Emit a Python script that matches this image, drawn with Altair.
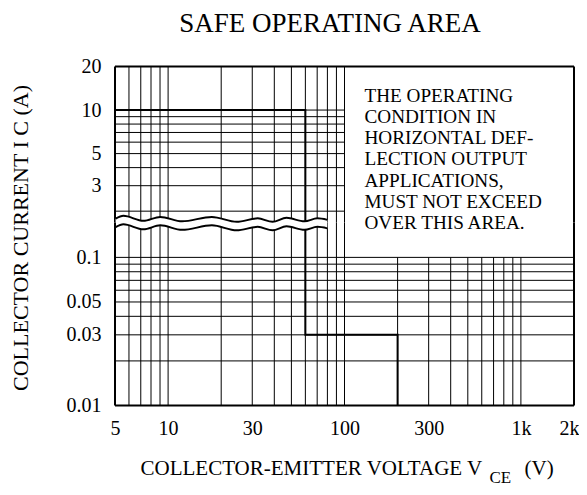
import altair as alt
import pandas as pd

FONT = "Liberation Serif"

title_text = "SAFE OPERATING AREA"
x_title_main = "COLLECTOR-EMITTER VOLTAGE V"
x_title_sub = "CE"
x_title_unit = "(V)"
y_title_text = "COLLECTOR CURRENT I C (A)"
note_lines = [
    "THE OPERATING",
    "CONDITION IN",
    "HORIZONTAL DEF-",
    "LECTION OUTPUT",
    "APPLICATIONS,",
    "MUST NOT EXCEED",
    "OVER THIS AREA.",
]

x_tick_values = [5, 10, 30, 100, 300, 1000, 2000]
y_upper_ticks = [3, 5, 10, 20]
y_lower_ticks = [0.01, 0.03, 0.05, 0.1]

v_grid_full = [6, 7, 8, 9, 10, 20, 30, 40, 50, 60, 70, 80, 90, 100]
v_grid_lower = [200, 300, 400, 500, 600, 700, 800, 900, 1000]
h_grid_upper = [2, 3, 4, 5, 6, 7, 8, 9, 10]
h_grid_lower = [0.02, 0.03, 0.04, 0.05, 0.06, 0.07, 0.08, 0.09, 0.1]

soa_v = [5, 60, 60, 200, 200]
soa_i = [10, 10, 0.03, 0.03, 0.01]

wave_v = [5.04, 5.58, 7.24, 9.03, 12.0, 17.7, 24.5, 32.2, 39.1, 46.9, 59.3, 70.2, 79.9]
wave_up = [0.1826, 0.1907, 0.1765, 0.1877, 0.1751, 0.1877, 0.1738, 0.1834, 0.1738, 0.1849, 0.1751, 0.1834, 0.1792]
wave_lo = [0.1600, 0.1671, 0.1546, 0.1645, 0.1534, 0.1645, 0.1522, 0.1607, 0.1522, 0.1620, 0.1534, 0.1607, 0.1570]

X_DOMAIN = [5, 2000]
Y_UP_DOMAIN = [1.67, 20]
Y_LO_DOMAIN = [0.01, 0.172]
W = 459
H_UP = 156
H_LO = 183

xs = alt.Scale(type="log", domain=X_DOMAIN, nice=False)
ys_up = alt.Scale(type="log", domain=Y_UP_DOMAIN, nice=False)
ys_lo = alt.Scale(type="log", domain=Y_LO_DOMAIN, nice=False)

y_axis_common = dict(
    format="~g", domain=False, ticks=False, grid=False, labelFont=FONT,
    labelFontSize=20, labelPadding=14, labelColor="black", title=None,
    labelOverlap=False,
)
y_axis_up = alt.Axis(values=y_upper_ticks, **y_axis_common)
y_axis_lo = alt.Axis(values=y_lower_ticks, **y_axis_common)
x_axis_lo = alt.Axis(
    values=x_tick_values, format="~g",
    labelExpr="datum.value >= 1000 ? (datum.value / 1000) + 'k' : datum.label",
    domain=False, ticks=False, grid=False, labelFont=FONT, labelFontSize=20,
    labelPadding=12.5, labelColor="black", title=None, labelFlush=True,
    labelFlushOffset=5, labelOverlap=False,
)

GRID = dict(color="black", strokeWidth=1)
THICK = dict(color="black", strokeWidth=2)

soa_df = pd.DataFrame({"v": soa_v, "i": soa_i, "o": range(len(soa_v))})
wave_df = pd.DataFrame({"v": wave_v, "up": wave_up, "lo": wave_lo})
one = pd.DataFrame({"k": [0]})

# ================= upper panel =================
up_vgrid = alt.Chart(pd.DataFrame({"v": v_grid_full})).mark_rule(**GRID).encode(
    x=alt.X("v:Q", scale=xs, axis=None))
up_hgrid = alt.Chart(pd.DataFrame({"i": h_grid_upper, "v0": [5] * len(h_grid_upper),
                                   "v1": [100] * len(h_grid_upper)})).mark_rule(**GRID).encode(
    y=alt.Y("i:Q", scale=ys_up, axis=y_axis_up),
    x=alt.X("v0:Q", scale=xs, axis=None), x2="v1:Q")
up_soa = alt.Chart(soa_df).mark_line(clip=True, **THICK).encode(
    x=alt.X("v:Q", scale=xs, axis=None),
    y=alt.Y("i:Q", scale=ys_up, axis=y_axis_up), order="o:Q")
up_frame_top = alt.Chart(pd.DataFrame({"i": [Y_UP_DOMAIN[1]]})).mark_rule(**THICK).encode(
    y=alt.Y("i:Q", scale=ys_up, axis=y_axis_up))
up_frame_lr = alt.Chart(pd.DataFrame({"v": X_DOMAIN})).mark_rule(**THICK).encode(
    x=alt.X("v:Q", scale=xs, axis=None))
up_title = alt.Chart(pd.DataFrame({"t": [title_text]})).mark_text(
    font=FONT, fontSize=27, color="black", align="center", baseline="middle").encode(
    x=alt.value(215), y=alt.value(-42.5), text="t:N")
up_ytitle = alt.Chart(pd.DataFrame({"t": [y_title_text]})).mark_text(
    font=FONT, fontSize=22, color="black", align="center", baseline="middle", angle=270).encode(
    x=alt.value(-94.5), y=alt.value(171.5), text="t:N")
up_note = alt.Chart(one).mark_text(
    font=FONT, fontSize=19.2, color="black", align="left", baseline="top",
    lineHeight=21.33).encode(
    x=alt.value(249.5), y=alt.value(20), text=alt.value(note_lines))

upper = alt.layer(up_vgrid, up_hgrid, up_soa, up_frame_top, up_frame_lr,
                  up_title, up_ytitle, up_note).properties(width=W, height=H_UP)

# ================= lower panel =================
lo_vgrid = alt.Chart(pd.DataFrame({"v": v_grid_full})).mark_rule(**GRID).encode(
    x=alt.X("v:Q", scale=xs, axis=x_axis_lo))
lo_vgrid2 = alt.Chart(pd.DataFrame({"v": v_grid_lower, "i0": [0.01] * len(v_grid_lower),
                                    "i1": [0.1] * len(v_grid_lower)})).mark_rule(**GRID).encode(
    x=alt.X("v:Q", scale=xs, axis=x_axis_lo),
    y=alt.Y("i0:Q", scale=ys_lo, axis=y_axis_lo), y2="i1:Q")
lo_hgrid = alt.Chart(pd.DataFrame({"i": h_grid_lower})).mark_rule(**GRID).encode(
    y=alt.Y("i:Q", scale=ys_lo, axis=y_axis_lo))
lo_soa = alt.Chart(soa_df).mark_line(clip=True, **THICK).encode(
    x=alt.X("v:Q", scale=xs, axis=x_axis_lo),
    y=alt.Y("i:Q", scale=ys_lo, axis=y_axis_lo), order="o:Q")
lo_mask = alt.Chart(wave_df).mark_area(color="white", opacity=1, interpolate="monotone").encode(
    x=alt.X("v:Q", scale=xs, axis=x_axis_lo),
    y=alt.Y("up:Q", scale=ys_lo, axis=y_axis_lo), y2="lo:Q")
lo_wave_up = alt.Chart(wave_df).mark_line(interpolate="monotone", **THICK).encode(
    x=alt.X("v:Q", scale=xs, axis=x_axis_lo),
    y=alt.Y("up:Q", scale=ys_lo, axis=y_axis_lo))
lo_wave_lo = alt.Chart(wave_df).mark_line(interpolate="monotone", **THICK).encode(
    x=alt.X("v:Q", scale=xs, axis=x_axis_lo),
    y=alt.Y("lo:Q", scale=ys_lo, axis=y_axis_lo))
lo_frame_bot = alt.Chart(pd.DataFrame({"i": [Y_LO_DOMAIN[0]]})).mark_rule(**THICK).encode(
    y=alt.Y("i:Q", scale=ys_lo, axis=y_axis_lo))
lo_frame_lr = alt.Chart(pd.DataFrame({"v": X_DOMAIN})).mark_rule(**THICK).encode(
    x=alt.X("v:Q", scale=xs, axis=x_axis_lo))
lo_xt_main = alt.Chart(pd.DataFrame({"t": [x_title_main]})).mark_text(
    font=FONT, fontSize=21, color="black", align="left", baseline="middle").encode(
    x=alt.value(25.5), y=alt.value(246), text="t:N")
lo_xt_sub = alt.Chart(pd.DataFrame({"t": [x_title_sub]})).mark_text(
    font=FONT, fontSize=17, color="black", align="left", baseline="middle").encode(
    x=alt.value(374.5), y=alt.value(255), text="t:N")
lo_xt_unit = alt.Chart(pd.DataFrame({"t": [x_title_unit]})).mark_text(
    font=FONT, fontSize=21, color="black", align="left", baseline="middle").encode(
    x=alt.value(409.5), y=alt.value(246), text="t:N")

lower = alt.layer(lo_vgrid, lo_vgrid2, lo_hgrid, lo_soa, lo_mask, lo_wave_up, lo_wave_lo,
                  lo_frame_bot, lo_frame_lr, lo_xt_main, lo_xt_sub, lo_xt_unit
                  ).properties(width=W, height=H_LO)

chart = alt.vconcat(upper, lower, spacing=0, bounds="flush").properties(
    padding={"left": 1, "top": 1.5, "right": 0, "bottom": 0},
    background="white",
).configure_view(stroke=None, strokeWidth=0)

chart.save("out.html", embed_options={"renderer": "svg", "actions": False})
